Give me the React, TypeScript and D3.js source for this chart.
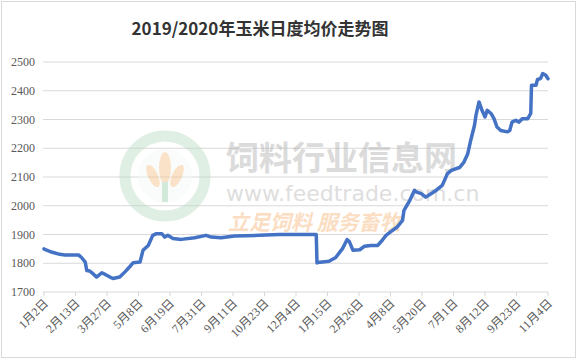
import React from "react";
import * as d3 from "d3";

const title = "2019/2020年玉米日度均价走势图";

const dates: string[] = [
  "2019-01-02","2019-01-03","2019-01-12","2019-01-23","2019-01-30","2019-02-17","2019-02-21","2019-02-26","2019-02-28",
  "2019-03-04","2019-03-09","2019-03-13","2019-03-20","2019-03-24","2019-03-31","2019-04-04","2019-04-13","2019-04-20",
  "2019-04-26","2019-05-01","2019-05-10","2019-05-14","2019-05-21","2019-05-27","2019-06-01","2019-06-08","2019-06-12",
  "2019-06-16","2019-06-23","2019-07-04","2019-07-22","2019-08-06","2019-08-13","2019-08-26","2019-09-13","2019-10-16",
  "2019-11-12","2019-12-31",
  "2020-01-01","2020-01-02","2020-01-17","2020-01-26","2020-02-04","2020-02-10","2020-02-13","2020-02-18","2020-02-27",
  "2020-03-04","2020-03-13","2020-03-22","2020-03-28","2020-04-02","2020-04-08","2020-04-17","2020-04-24","2020-04-26",
  "2020-05-03","2020-05-10","2020-05-12","2020-05-19","2020-05-25","2020-06-01","2020-06-08","2020-06-16","2020-06-23",
  "2020-06-28","2020-07-09","2020-07-15","2020-07-20","2020-07-24","2020-07-29","2020-07-31","2020-08-04","2020-08-08",
  "2020-08-12","2020-08-15","2020-08-20","2020-08-24","2020-08-28","2020-09-02","2020-09-11","2020-09-14","2020-09-17",
  "2020-09-22","2020-09-26","2020-10-01","2020-10-08","2020-10-12","2020-10-13","2020-10-19","2020-10-21","2020-10-25",
  "2020-10-28","2020-11-01","2020-11-04"
];

const prices: number[] = [
  1850,1848,1839,1831,1829,1829,1820,1804,1775,
  1773,1762,1752,1767,1762,1752,1747,1752,1770,
  1787,1802,1804,1845,1862,1897,1903,1903,1891,
  1897,1886,1883,1889,1897,1891,1889,1895,1897,
  1900,1900,
  1801,1803,1807,1820,1851,1882,1876,1845,1847,
  1859,1862,1862,1880,1897,1909,1926,1949,1984,
  2015,2054,2048,2042,2030,2042,2054,2071,2112,
  2123,2133,2152,2181,2228,2280,2315,2361,2332,
  2309,2332,2321,2303,2274,2262,2257,2262,2291,
  2297,2291,2303,2303,2321,2419,2419,2439,2442,
  2460,2454,2442
];

const yTicks: number[] = [1700, 1800, 1900, 2000, 2100, 2200, 2300, 2400, 2500];
const xTickStart = "2019-01-02";
const xTickStepDays = 42;
const xTickCount = 17;

const parse = d3.timeParse("%Y-%m-%d");

export default function App() {
  const W = 579, H = 359;
  const x0 = 44, x1 = 548, yTop = 62, yBot = 292;
  const start = parse(xTickStart) as Date;
  const endTick = d3.timeDay.offset(start, xTickStepDays * (xTickCount - 1));
  const x = d3.scaleTime().domain([start, endTick]).range([x0, x1]);
  const y = d3.scaleLinear().domain([1700, 2500]).range([yBot, yTop]);
  const pts = dates.map((d, i) => [x(parse(d) as Date), y(prices[i])] as [number, number]);
  const line = d3.line<[number, number]>().x(p => p[0]).y(p => p[1])(pts) || "";
  const ticks = d3.range(xTickCount).map(i => d3.timeDay.offset(start, i * xTickStepDays));
  const labelFont = "'Liberation Serif', 'Noto Sans CJK SC', serif";

  return (
    <svg width={W} height={H} style={{ position: "absolute", left: 0, top: 0, background: "#fff" }}>
      <rect x={1.5} y={1.5} width={574} height={356} fill="#fff" stroke="#d9d9d9" strokeWidth={1} />
      <text x={260} y={35} textAnchor="middle" fontSize={17} fontWeight="bold" fill="#333"
        fontFamily="'Noto Sans CJK SC', sans-serif">{title}</text>
      {yTicks.map(t => (
        <g key={t}>
          <line x1={x0 - 1} x2={x1} y1={y(t)} y2={y(t)} stroke="#d9d9d9" strokeWidth={1} />
          <text x={35} y={y(t)} dy="0.35em" textAnchor="end" fontSize={12} fill="#595959" fontFamily={labelFont}>{t}</text>
        </g>
      ))}
      {ticks.map((t, i) => {
        const tx = x(t);
        return (
          <g key={i}>
            <line x1={tx} x2={tx} y1={yBot} y2={yBot + 4} stroke="#d9d9d9" />
            <text transform={`translate(${tx + 5},${yBot + 12}) rotate(-45)`} textAnchor="end" fontSize={12}
              fill="#595959" fontFamily={labelFont}>{`${t.getMonth() + 1}月${t.getDate()}日`}</text>
          </g>
        );
      })}
      {/* watermark */}
      <g opacity={0.45}>
        <circle cx={165} cy={176} r={40} fill="none" stroke="#b9dcc2" strokeWidth={11} />
        <circle cx={165} cy={176} r={27} fill="#f3f9f4" stroke="none" />
        <ellipse cx={165} cy={168} rx={6} ry={16} fill="#f6c08a" />
        <ellipse cx={153} cy={176} rx={5} ry={12} fill="#f6c08a" transform="rotate(-25 153 176)" />
        <ellipse cx={177} cy={176} rx={5} ry={12} fill="#f6c08a" transform="rotate(25 177 176)" />
        <rect x={162} y={182} width={6} height={20} fill="#9fd0ac" />
        <text x={226} y={170} fontSize={33} fontWeight="bold" fill="#b0b0b0" fontFamily="'Noto Sans CJK SC', sans-serif">饲料行业信息网</text>
        <text x={226} y={201} fontSize={22} fill="#b8b8b8" fontFamily="'DejaVu Sans', sans-serif">www.feedtrade.com.cn</text>
        <text x={228} y={230} fontSize={21} fontWeight="bold" fontStyle="italic" fill="#f7b57a" fontFamily="'Noto Sans CJK SC', sans-serif">立足饲料  服务畜牧</text>
      </g>
      <path d={line} fill="none" stroke="#4472C4" strokeWidth={3.5} strokeLinejoin="round" strokeLinecap="round" />
    </svg>
  );
}
